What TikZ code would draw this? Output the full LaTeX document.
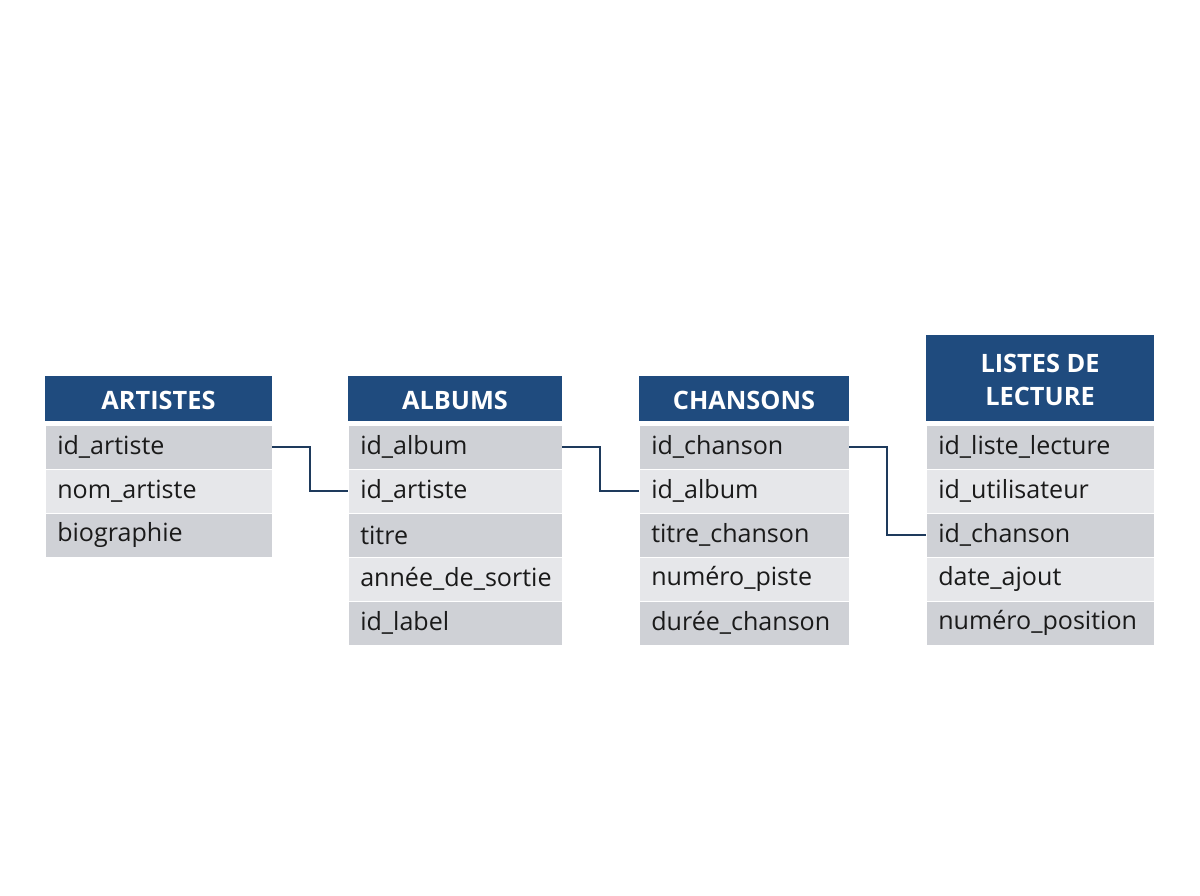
\documentclass[tikz,border=0pt]{standalone}
\usepackage{fontspec}
\setmainfont{Open Sans}
\begin{document}
\begin{tikzpicture}[x=0.75pt,y=-0.75pt,
 hdr/.style={fill=hdrc,draw=none,text=white,font=\fontsize{19}{25}\selectfont\bfseries,align=center,inner sep=0pt},
 rowd/.style={fill=rowdc,draw=white,line width=0.75pt},
 rowl/.style={fill=rowlc,draw=white,line width=0.75pt},
 txt/.style={anchor=west,font=\fontsize{18.8}{20}\selectfont,text=txtc,inner sep=0pt},
 link/.style={draw=linkc,line width=1.6pt}]
\definecolor{hdrc}{HTML}{1F4B7E}
\definecolor{rowdc}{HTML}{CFD1D6}
\definecolor{rowlc}{HTML}{E6E7EA}
\definecolor{txtc}{HTML}{1A1A1A}
\definecolor{linkc}{HTML}{1E3A5C}
\useasboundingbox (0,0) rectangle (1200,896);
\newcommand{\mktable}[6]{% name, x1, x2, header top, title, rows
  \fill[hdrc] (#2,#4) rectangle (#3,421);
  \node[hdr] (#1h) at ({(#2+#3)/2},{(#4+421)/2+2}) {#5};
  \foreach \t [count=\i] in {#6} {
    \pgfmathsetmacro\ya{425+(\i-1)*44}
    \pgfmathsetmacro\yb{\ya+44}
    \pgfmathparse{mod(\i,2)==1?1:0}
    \ifnum\pgfmathresult=1 \path[rowd] (#2,\ya) rectangle (#3,\yb);
    \else \path[rowl] (#2,\ya) rectangle (#3,\yb); \fi
    \node[txt] (#1r\i) at (#2+12,\ya+22) {\t};
    \coordinate (#1L\i) at (#2,\ya+22);
    \coordinate (#1R\i) at (#3,\ya+22);
  }
}
\mktable{a}{45}{272}{376}{ARTISTES}{id\_artiste,nom\_artiste,biographie}
\mktable{b}{348}{562}{376}{ALBUMS}{id\_album,id\_artiste,titre,année\_de\_sortie,id\_label}
\mktable{c}{639}{849}{376}{CHANSONS}{id\_chanson,id\_album,titre\_chanson,numéro\_piste,durée\_chanson}
\mktable{d}{926}{1154}{335}{LISTES DE\\LECTURE}{id\_liste\_lecture,id\_utilisateur,id\_chanson,date\_ajout,numéro\_position}
\draw[link] (aR1) -- (310,447) |- (bL2);
\draw[link] (bR1) -- (600,447) |- (cL2);
\draw[link] (cR1) -- (887,447) |- (dL3);
\end{tikzpicture}
\end{document}
